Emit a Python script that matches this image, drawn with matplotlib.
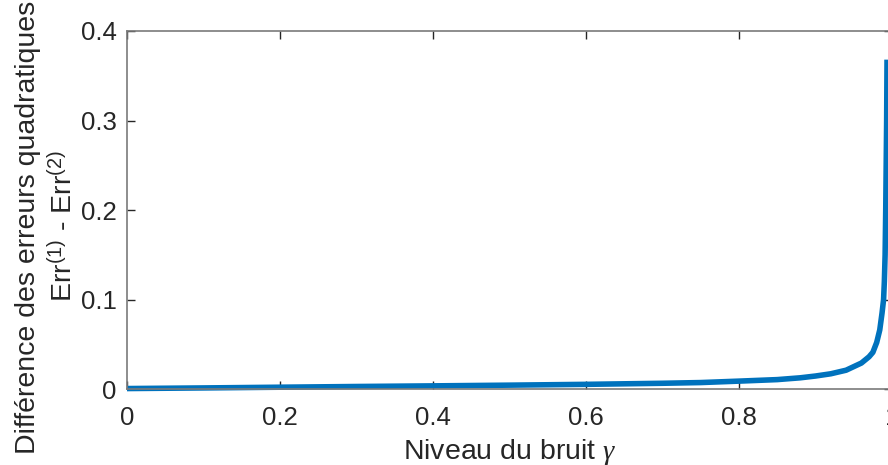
import matplotlib
matplotlib.use("Agg")
import matplotlib.pyplot as plt

plt.rcParams['font.family'] = ['Liberation Sans', 'DejaVu Sans']
plt.rcParams['mathtext.fontset'] = 'custom'
plt.rcParams['mathtext.rm'] = 'Liberation Sans'
plt.rcParams['mathtext.it'] = 'Liberation Serif:italic'

# Noise level and difference of squared errors
gamma = [0.0, 0.1, 0.2, 0.3, 0.4, 0.5, 0.6, 0.7, 0.75, 0.8, 0.85, 0.88,
         0.9, 0.92, 0.94, 0.95, 0.96, 0.97, 0.975, 0.98, 0.984, 0.987,
         0.989, 0.990, 0.991, 0.9918, 0.993, 0.9935]
err_diff = [0.0005, 0.0012, 0.0020, 0.0028, 0.0035, 0.0043, 0.0052, 0.0064,
            0.0072, 0.0088, 0.0105, 0.0125, 0.0145, 0.0170, 0.0210, 0.0250,
            0.0290, 0.0360, 0.0410, 0.0520, 0.0660, 0.0850, 0.1000, 0.1200,
            0.1500, 0.2000, 0.3000, 0.3680]

x_ticks = [0, 0.2, 0.4, 0.6, 0.8, 1]
x_tick_labels = ['0', '0.2', '0.4', '0.6', '0.8', '1']
y_ticks = [0, 0.1, 0.2, 0.3, 0.4]
y_tick_labels = ['0', '0.1', '0.2', '0.3', '0.4']

W, H = 888, 465
fig = plt.figure(figsize=(W / 100, H / 100), dpi=100)
ax = fig.add_axes([127 / W, 1 - 389 / H, (892 - 127) / W, (389 - 31) / H])

ax.plot(gamma, err_diff, color='#0072BD', lw=4.0, solid_joinstyle='round',
        solid_capstyle='butt', clip_on=False)

ax.set_xlim(0, 1)
ax.set_ylim(0, 0.4)
ax.set_xticks(x_ticks)
ax.set_xticklabels(x_tick_labels)
ax.set_yticks(y_ticks)
ax.set_yticklabels(y_tick_labels)

axis_color = '#262626'
for side in ['left', 'right', 'top', 'bottom']:
    ax.spines[side].set_color('#7a7a7a')
    ax.spines[side].set_linewidth(1.2)
ax.tick_params(direction='in', length=6, width=1, colors=axis_color,
               labelsize=18.5, top=True, right=True)
ax.tick_params(axis='x', pad=12)
ax.tick_params(axis='y', pad=7.5)

ax.set_xlabel(r'Niveau du bruit $\gamma$', fontsize=20.5, color=axis_color,
              labelpad=5)

# Two-line y label, each line placed by its baseline
fig.text(35 / W, 1 - 227 / H, 'Différence des erreurs quadratiques',
         rotation=90, rotation_mode='anchor', ha='center', va='baseline',
         fontsize=20.5, color=axis_color)
fig.text(72 / W, 1 - 226 / H,
         r'Err$^{\mathrm{(1)}}$ - Err$^{\mathrm{(2)}}$',
         rotation=90, rotation_mode='anchor', ha='center', va='baseline',
         fontsize=20.5, color=axis_color)

fig.savefig('out.png', dpi=100)
